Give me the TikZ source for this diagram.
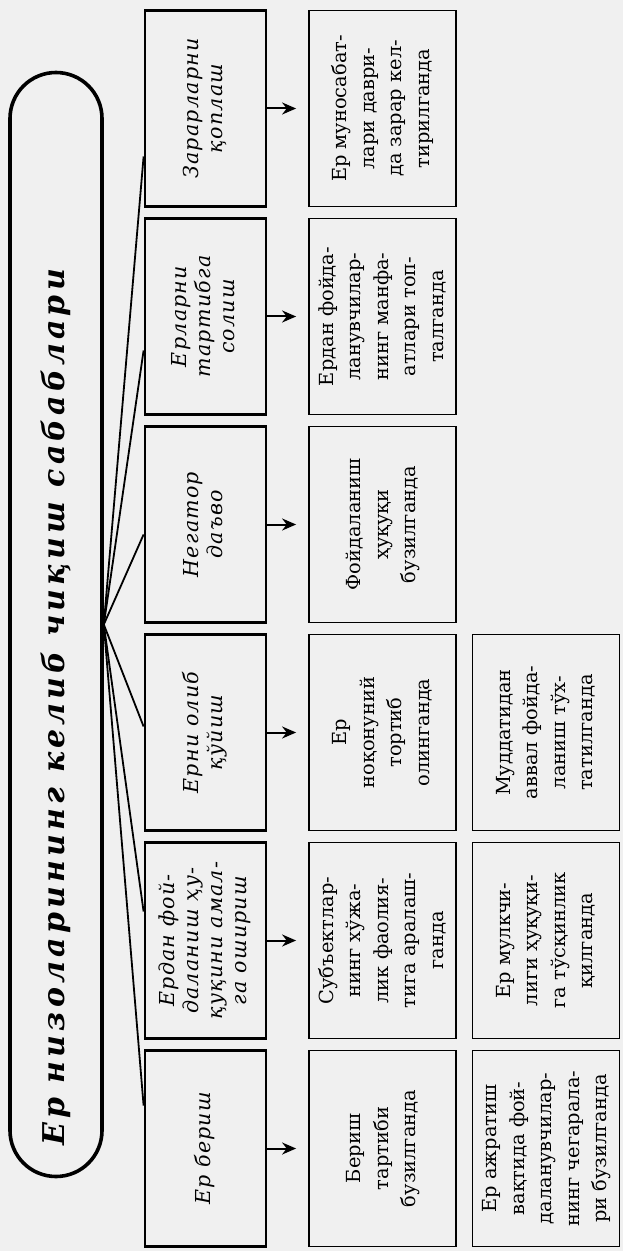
\documentclass[tikz,border=0pt]{standalone}
\usepackage{fontspec}
\usepackage{graphicx}
\usetikzlibrary{arrows.meta}
\setmainfont{DejaVu Serif}
\newfontfamily\headfont[LetterSpace=14]{DejaVu Serif}
\newfontfamily\causefont[LetterSpace=6]{DejaVu Serif}
\renewcommand{\arraystretch}{1.1}
\newcommand{\vtext}[1]{\rotatebox{90}{\begin{tabular}{@{}c@{}}#1\end{tabular}}}

\begin{document}
\begin{tikzpicture}[
            x=0.5pt, y=-0.5pt,
            >={Stealth[length=7pt,width=6pt]},
            oval/.style={draw, line width=1.8pt, rounded corners=23pt,
                            minimum width=46pt, minimum height=552pt, inner sep=0pt,
                            font=\headfont\bfseries\itshape\fontsize{15}{18}\selectfont},
            cause/.style={draw, line width=1.4pt, inner sep=0pt,
                            minimum width=60.5pt, minimum height=98pt,
                            font=\causefont\itshape\fontsize{10.3}{11}\selectfont},
            case/.style={draw, line width=0.9pt, inner sep=0pt,
                            minimum width=73.5pt, minimum height=98pt,
                            font=\fontsize{9.7}{12.5}\selectfont}
        ]

            \fill[black!6] (0,0) rectangle (623,1251);

            \node[oval] (title) at (56,624.5) {\rotatebox{90}{Ер низоларининг келиб чиқиш сабаблари\hspace*{83pt}}};

            % causes
            \node[cause] (c1) at (205.5,108.5) {\vtext{Зарарларни\\қоплаш}};
            \node[cause, below of=c1, node distance=104pt] (c2) {\vtext{Ерларни\\тартибга\\солиш}};
            \node[cause, below of=c2, node distance=104pt] (c3) {\vtext{Негатор\\даъво}};
            \node[cause, below of=c3, node distance=104pt] (c4) {\vtext{Ерни олиб\\қўйиш}};
            \node[cause, below of=c4, node distance=104pt] (c5) {\vtext{Ердан фой-\\даланиш ҳу-\\қуқини амал-\\га ошириш}};
            \node[cause, below of=c5, node distance=104pt] (c6) {\vtext{Ер бериш}};

            % cases
            \node[case, right of=c1, node distance=88.5pt] (d1) {\vtext{Ер муносабат-\\лари даври-\\да зарар кел-\\тирилганда}};
            \node[case, right of=c2, node distance=88.5pt] (d2) {\vtext{Ердан фойда-\\ланувчилар-\\нинг манфа-\\атлари топ-\\талганда}};
            \node[case, right of=c3, node distance=88.5pt] (d3) {\vtext{Фойдаланиш\\ҳуқуқи\\бузилганда}};
            \node[case, right of=c4, node distance=88.5pt] (d4) {\vtext{Ер\\ноқонуний\\тортиб\\олинганда}};
            \node[case, right of=c5, node distance=88.5pt] (d5) {\vtext{Субъектлар-\\нинг хўжа-\\лик фаолия-\\тига аралаш-\\ганда}};
            \node[case, right of=c6, node distance=88.5pt] (d6) {\vtext{Бериш\\тартиби\\бузилганда}};

            \node[case, right of=d4, node distance=81.75pt] (e4) {\vtext{Муддатидан\\аввал фойда-\\ланиш тўх-\\татилганда}};
            \node[case, right of=d5, node distance=81.75pt] (e5) {\vtext{Ер мулкчи-\\лиги ҳуқуқи-\\га тўсқинлик\\қилганда}};
            \node[case, right of=d6, node distance=81.75pt] (e6) {\vtext{Ер ажратиш\\вақтида фой-\\даланувчилар-\\нинг чегарала-\\ри бузилганда}};

            \foreach \n/\s in {1/-24, 2/-17, 3/-5, 4/3, 5/14.5, 6/21.5}
                \draw[line width=0.9pt] (title.east) -- ([yshift=\s pt]c\n.west);

            \foreach \n in {1,...,6}
                \draw[->, line width=1pt] (c\n.east) -- ([xshift=-6pt]d\n.west);

        \end{tikzpicture}
\end{document}
